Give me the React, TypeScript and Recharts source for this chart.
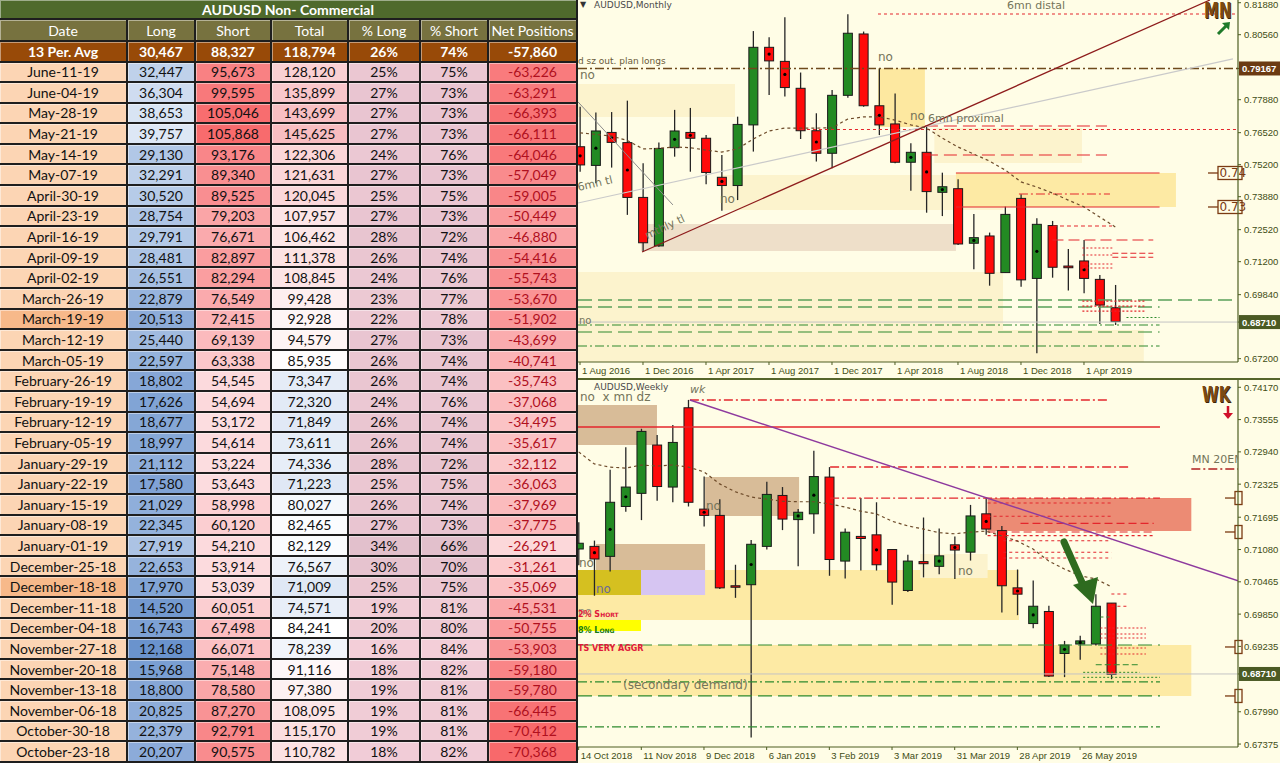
import React from "react";
import {
  ComposedChart,
  Bar,
  Line,
  XAxis,
  YAxis,
  ReferenceArea,
  ReferenceLine,
} from "recharts";

// ---------- COT table (AUDUSD non-commercial) ----------
const COT_DATES = [
  "June-11-19", "June-04-19", "May-28-19", "May-21-19", "May-14-19", "May-07-19",
  "April-30-19", "April-23-19", "April-16-19", "April-09-19", "April-02-19",
  "March-26-19", "March-19-19", "March-12-19", "March-05-19", "February-26-19",
  "February-19-19", "February-12-19", "February-05-19", "January-29-19",
  "January-22-19", "January-15-19", "January-08-19", "January-01-19",
  "December-25-18", "December-18-18", "December-11-18", "December-04-18",
  "November-27-18", "November-20-18", "November-13-18", "November-06-18",
  "October-30-18", "October-23-18",
];
const COT_LONG = [32447, 36304, 38653, 39757, 29130, 32291, 30520, 28754, 29791, 28481, 26551, 22879, 20513, 25440, 22597, 18802, 17626, 18677, 18997, 21112, 17580, 21029, 22345, 27919, 22653, 17970, 14520, 16743, 12168, 15968, 18800, 20825, 22379, 20207];
const COT_SHORT = [95673, 99595, 105046, 105868, 93176, 89340, 89525, 79203, 76671, 82897, 82294, 76549, 72415, 69139, 63338, 54545, 54694, 53172, 54614, 53224, 53643, 58998, 60120, 54210, 53914, 53039, 60051, 67498, 66071, 75148, 78580, 87270, 92791, 90575];
const COT_TOTAL = [128120, 135899, 143699, 145625, 122306, 121631, 120045, 107957, 106462, 111378, 108845, 99428, 92928, 94579, 85935, 73347, 72320, 71849, 73611, 74336, 71223, 80027, 82465, 82129, 76567, 71009, 74571, 84241, 78239, 91116, 97380, 108095, 115170, 110782];
const COT_PCT_LONG = [25, 27, 27, 27, 24, 27, 25, 27, 28, 26, 24, 23, 22, 27, 26, 26, 24, 26, 26, 28, 25, 26, 27, 34, 30, 25, 19, 20, 16, 18, 19, 19, 19, 18];
const COT_PCT_SHORT = [75, 73, 73, 73, 76, 73, 75, 73, 72, 74, 76, 77, 78, 73, 74, 74, 76, 74, 74, 72, 75, 74, 73, 66, 70, 75, 81, 80, 84, 82, 81, 81, 81, 82];
const COT_NET = [-63226, -63291, -66393, -66111, -64046, -57049, -59005, -50449, -46880, -54416, -55743, -53670, -51902, -43699, -40741, -35743, -37068, -34495, -35617, -32112, -36063, -37969, -37775, -26291, -31261, -35069, -45531, -50755, -53903, -59180, -59780, -66445, -70412, -70368];
const COT_HEADERS = ["Date", "Long", "Short", "Total", "% Long", "% Short", "Net Positions"];
const COT_AVG = ["13 Per. Avg", "30,467", "88,327", "118,794", "26%", "74%", "-57,860"];
const COT_MARKED = ["March-19-19", "December-18-18"];

// ---------- AUDUSD monthly candles (Aug 2016 .. Jun 2019) ----------
const MN_OPEN = [0.7594, 0.7517, 0.7653, 0.7611, 0.7385, 0.7185, 0.759, 0.7653, 0.7629, 0.7468, 0.7434, 0.7684, 0.8004, 0.7946, 0.7835, 0.766, 0.7567, 0.7806, 0.8059, 0.7763, 0.7688, 0.753, 0.7571, 0.7406, 0.7421, 0.7196, 0.7226, 0.7075, 0.7381, 0.7051, 0.7269, 0.7102, 0.7123, 0.7047, 0.693];
const MN_HIGH = [0.7759, 0.7735, 0.7737, 0.7784, 0.7526, 0.7611, 0.7746, 0.7754, 0.7642, 0.756, 0.7718, 0.8071, 0.8045, 0.8128, 0.79, 0.7732, 0.7828, 0.814, 0.8069, 0.7917, 0.7814, 0.7608, 0.7677, 0.7487, 0.746, 0.7317, 0.724, 0.7347, 0.7398, 0.7299, 0.7288, 0.7172, 0.7209, 0.7065, 0.7024];
const MN_LOW = [0.7491, 0.7443, 0.7508, 0.7313, 0.7161, 0.7182, 0.7553, 0.7491, 0.7439, 0.733, 0.7374, 0.7574, 0.7807, 0.7801, 0.7626, 0.7533, 0.7505, 0.7796, 0.7759, 0.7642, 0.7526, 0.7412, 0.7322, 0.7308, 0.7189, 0.7089, 0.7021, 0.7075, 0.7017, 0.6742, 0.7054, 0.7001, 0.699, 0.6863, 0.6859];
const MN_CLOSE = [0.7519, 0.7659, 0.7612, 0.7385, 0.7198, 0.7587, 0.7659, 0.7629, 0.7488, 0.7434, 0.7686, 0.8004, 0.7948, 0.7838, 0.766, 0.7567, 0.7806, 0.8062, 0.7763, 0.7684, 0.753, 0.7571, 0.7409, 0.7429, 0.7193, 0.7219, 0.7072, 0.7315, 0.7045, 0.7274, 0.7097, 0.7095, 0.7051, 0.6941, 0.6873];
const MN_EMA = [0.7651, 0.7645, 0.7638, 0.762, 0.7585, 0.7587, 0.7593, 0.759, 0.758, 0.7572, 0.7585, 0.7626, 0.7659, 0.7671, 0.7671, 0.7671, 0.7672, 0.7708, 0.7717, 0.7717, 0.7704, 0.7684, 0.7671, 0.763, 0.7593, 0.7564, 0.7535, 0.7498, 0.7449, 0.7428, 0.7403, 0.7374, 0.7346, 0.7304, 0.7263];
const MN_DOTS = [0, 1, 2, 3, 6, 7, 9, 12, 13, 15, 19, 21, 22, 23, 25, 29, 32];
const MN_DATE_TICKS = [0, 4, 8, 12, 16, 20, 24, 28, 32];
const MN_DATE_LABELS = ["1 Aug 2016", "1 Dec 2016", "1 Apr 2017", "1 Aug 2017", "1 Dec 2017", "1 Apr 2018", "1 Aug 2018", "1 Dec 2018", "1 Apr 2019"];
const MN_PRICE_TICKS = [0.8188, 0.8056, 0.79167, 0.7788, 0.7652, 0.752, 0.7388, 0.7252, 0.712, 0.6984, 0.6871, 0.672];

// ---------- AUDUSD weekly candles (14 Oct 2018 .. 9 Jun 2019) ----------
const WK_OPEN = [0.7109, 0.7114, 0.7095, 0.719, 0.7215, 0.7307, 0.7227, 0.7378, 0.7185, 0.7173, 0.7039, 0.7041, 0.7114, 0.7211, 0.7165, 0.7176, 0.7246, 0.7086, 0.7133, 0.7136, 0.7108, 0.703, 0.7085, 0.7076, 0.7117, 0.7103, 0.7176, 0.7144, 0.7035, 0.6967, 0.699, 0.691, 0.6928, 0.6928, 0.7006];
const WK_HIGH = [0.716, 0.7125, 0.726, 0.7303, 0.7338, 0.7326, 0.7345, 0.7393, 0.7247, 0.7204, 0.7079, 0.7126, 0.7237, 0.7227, 0.7185, 0.7296, 0.7265, 0.7148, 0.7206, 0.7198, 0.7108, 0.7098, 0.7169, 0.7148, 0.7133, 0.7193, 0.7207, 0.7153, 0.707, 0.7049, 0.7001, 0.6934, 0.6944, 0.7023, 0.7006];
const WK_LOW = [0.7078, 0.702, 0.7066, 0.718, 0.7164, 0.7201, 0.7198, 0.719, 0.7152, 0.7033, 0.7016, 0.675, 0.7108, 0.7145, 0.7076, 0.7138, 0.7058, 0.7053, 0.7068, 0.7068, 0.7003, 0.7027, 0.7055, 0.7061, 0.7052, 0.7087, 0.7136, 0.6988, 0.6983, 0.6958, 0.6865, 0.6865, 0.6898, 0.6925, 0.6861];
const WK_CLOSE = [0.712, 0.709, 0.7198, 0.7227, 0.7333, 0.7228, 0.7312, 0.7198, 0.7173, 0.7035, 0.7038, 0.7118, 0.7213, 0.7166, 0.7179, 0.7247, 0.7089, 0.7141, 0.7129, 0.7079, 0.7046, 0.7086, 0.7081, 0.7096, 0.7107, 0.7172, 0.7147, 0.7039, 0.7023, 0.7, 0.6867, 0.6926, 0.6934, 0.7, 0.687];
const WK_EMA = [0.7294, 0.7271, 0.7265, 0.7263, 0.7269, 0.7267, 0.7269, 0.7265, 0.7256, 0.7233, 0.7218, 0.7208, 0.7204, 0.72, 0.7199, 0.7199, 0.7195, 0.7189, 0.7181, 0.7176, 0.7162, 0.7153, 0.7147, 0.714, 0.7138, 0.7141, 0.7143, 0.7134, 0.7124, 0.7109, 0.7086, 0.7071, 0.7058, 0.7052, 0.7037];
const WK_DOTS = [1, 2, 3, 8, 11, 14, 15, 19, 23, 24, 26, 28, 29, 31, 32];
const WK_DATE_TICKS = [0, 4, 8, 12, 16, 20, 24, 28, 32];
const WK_DATE_LABELS = ["14 Oct 2018", "11 Nov 2018", "9 Dec 2018", "6 Jan 2019", "3 Feb 2019", "3 Mar 2019", "31 Mar 2019", "28 Apr 2019", "26 May 2019"];
const WK_PRICE_TICKS = [0.7417, 0.73555, 0.7294, 0.72325, 0.71695, 0.7108, 0.70465, 0.6985, 0.69235, 0.6871, 0.6799, 0.67375];

// axis windows (bar index / price)
const MN_X: [number, number] = [-0.127, 41.78];
const MN_Y: [number, number] = [0.67063, 0.81991];
const WK_X: [number, number] = [-0.04, 42.08];
const WK_Y: [number, number] = [0.67319, 0.74309];

const BG = "#FFFDE6";
const PALE = "#FCF3CD";
const YEL = "#FDEAA4";
const TAN = "#D8BC98";
const RED = "#E4262C";
const GRN = "#2E8A2E";
const AXIS = "#4E5E22";
const TXT = "#3F4D15";
const NOTE = "#74745A";

// drawing objects on the monthly chart
const MN_ZONES = [
  { x1: MN_X[0], x2: 26.86, y1: 0.6706, y2: 0.70775, fill: PALE },
  { x1: 26.86, x2: 35.8, y1: 0.6706, y2: 0.68383, fill: PALE },
  { x1: MN_X[0], x2: 9.84, y1: 0.77166, y2: 0.78527, fill: PALE },
  { x1: 8.95, x2: 26.86, y1: 0.73332, y2: 0.74775, fill: PALE },
  { x1: 22.5, x2: 31.87, y1: 0.7527, y2: 0.76713, fill: PALE },
  { x1: 18.92, x2: 21.9, y1: 0.76754, y2: 0.79167, fill: "#FDE8A0" },
  { x1: 3.87, x2: 23.87, y1: 0.71641, y2: 0.72754, fill: "#EEDFC9" },
  { x1: 23.87, x2: 37.84, y1: 0.73455, y2: 0.74857, fill: YEL },
];
const MN_LINES = [
  { y: 0.81414, x1: 18.92, x2: MN_X[1], c: RED, d: "3 3", w: 1.2 },
  { y: 0.79167, x1: MN_X[0], x2: MN_X[1], c: "#6E4A1C", d: "9 3 2 3", w: 1.6 },
  { y: 0.76651, x1: 14.03, x2: MN_X[1], c: RED, d: "3 3", w: 1.2 },
  { y: 0.76795, x1: 21.9, x2: 33.46, c: RED, d: "13 6", w: 1.2 },
  { y: 0.756, x1: 21.9, x2: 33.46, c: RED, d: "13 6", w: 1.2 },
  { y: 0.74857, x1: 23.87, x2: 36.8, c: RED, d: "", w: 1.2 },
  { y: 0.73455, x1: 23.87, x2: 36.8, c: RED, d: "", w: 1.2 },
  { y: 0.73991, x1: 27.87, x2: 33.65, c: RED, d: "9 3 2 3", w: 1.2 },
  { y: 0.72672, x1: 30.03, x2: 33.78, c: RED, d: "4 3", w: 1.2 },
  { y: 0.72094, x1: 30.0, x2: 36.4, c: RED, d: "11 5", w: 1.2 },
  { y: 0.71764, x1: 31.9, x2: 33.8, c: RED, d: "2 2", w: 1.1 },
  { y: 0.7155, x1: 33.8, x2: 36.4, c: RED, d: "6 3", w: 1.1 },
  { y: 0.71476, x1: 31.9, x2: 33.8, c: RED, d: "2 2", w: 1.1 },
  { y: 0.7138, x1: 33.8, x2: 36.4, c: RED, d: "6 3", w: 1.1 },
  { y: 0.71105, x1: 31.9, x2: 33.8, c: RED, d: "2 2", w: 1.1 },
  { y: 0.7094, x1: 31.9, x2: 33.8, c: RED, d: "2 2", w: 1.1 },
  { y: 0.6962, x1: MN_X[0], x2: 41.4, c: "#5AA05A", d: "14 6", w: 1.3 },
  { y: 0.69332, x1: MN_X[0], x2: 36.8, c: "#5AA05A", d: "14 6", w: 1.3 },
  { y: 0.69575, x1: 31.9, x2: 35.9, c: RED, d: "2 2", w: 1.1 },
  { y: 0.69369, x1: 31.9, x2: 35.9, c: RED, d: "2 2", w: 1.1 },
  { y: 0.69162, x1: 31.9, x2: 35.9, c: RED, d: "2 2", w: 1.1 },
  { y: 0.6871, x1: MN_X[0], x2: MN_X[1], c: "#C4C4C4", d: "", w: 1 },
  { y: 0.68898, x1: 34.7, x2: 36.8, c: GRN, d: "2 2", w: 1 },
  { y: 0.68589, x1: MN_X[0], x2: 36.8, c: GRN, d: "9 3 2 3", w: 1.2 },
  { y: 0.683, x1: MN_X[0], x2: 36.8, c: GRN, d: "14 6", w: 1.2 },
  { y: 0.67723, x1: MN_X[0], x2: 36.8, c: GRN, d: "9 3 2 3", w: 1.2 },
];
const MN_SEGS = [
  { x1: MN_X[0], y1: 0.7362, x2: 41.46, y2: 0.7956, c: "#CACACA", w: 1.2 },
  { x1: MN_X[0], y1: 0.7779, x2: 5.9, y2: 0.7354, c: "#8C8C8C", w: 1 },
  { x1: 3.94, y1: 0.716, x2: 40.0, y2: 0.81991, c: "#8E1C1C", w: 1.3 },
];
const MN_TAGS = [
  { y: 0.74857, text: "0.74" },
  { y: 0.73455, text: "0.73" },
];

// drawing objects on the weekly chart
const WK_ZONES = [
  { x1: WK_X[0], x2: 28.1, y1: 0.69738, y2: 0.7069, fill: YEL },
  { x1: WK_X[0], x2: 39.1, y1: 0.68291, y2: 0.69262, fill: YEL },
  { x1: WK_X[0], x2: 3.98, y1: 0.70214, y2: 0.7069, fill: "#D5C020" },
  { x1: 3.98, x2: 8.07, y1: 0.70214, y2: 0.7069, fill: "#D6C5F2" },
  { x1: WK_X[0], x2: 3.98, y1: 0.69528, y2: 0.69738, fill: "#FFFF00" },
  { x1: WK_X[0], x2: 5.0, y1: 0.73071, y2: 0.73833, fill: TAN },
  { x1: 8.07, x2: 14.07, y1: 0.71718, y2: 0.72461, fill: TAN },
  { x1: 1.11, x2: 8.07, y1: 0.7069, y2: 0.71185, fill: TAN },
  { x1: 21.8, x2: 26.1, y1: 0.70538, y2: 0.70995, fill: PALE },
  { x1: 26.1, x2: 39.1, y1: 0.71433, y2: 0.72061, fill: "#EC8B74" },
];
const WK_LINES = [
  { y: 0.73928, x1: 7.1, x2: 33.9, c: RED, d: "9 3 2 3", w: 1.3 },
  { y: 0.73414, x1: WK_X[0], x2: 37.1, c: RED, d: "", w: 1.5 },
  { y: 0.72652, x1: 16.05, x2: 35.07, c: RED, d: "9 3 2 3", w: 1.3 },
  { y: 0.72061, x1: 16.05, x2: 37.1, c: RED, d: "9 3 2 3", w: 1.3 },
  { y: 0.72614, x1: 39.1, x2: WK_X[1], c: "#B02020", d: "9 3 2 3", w: 1.3 },
  { y: 0.71966, x1: 26.1, x2: 34.1, c: RED, d: "3 3", w: 1.1 },
  { y: 0.71713, x1: 26.1, x2: 34.1, c: RED, d: "3 3", w: 1.1 },
  { y: 0.7158, x1: 28.2, x2: 36.7, c: RED, d: "8 4", w: 1.2 },
  { y: 0.71414, x1: 26.1, x2: 36.7, c: RED, d: "8 4", w: 1.2 },
  { y: 0.71344, x1: 26.1, x2: 36.7, c: RED, d: "3 3", w: 1.1 },
  { y: 0.71248, x1: 27.1, x2: 34.0, c: RED, d: "3 3", w: 1.1 },
  { y: 0.71027, x1: 27.1, x2: 34.0, c: RED, d: "3 3", w: 1.1 },
  { y: 0.70919, x1: 27.1, x2: 34.0, c: RED, d: "3 3", w: 1.1 },
  { y: 0.70233, x1: 34.0, x2: 35.1, c: RED, d: "3 3", w: 1.1 },
  { y: 0.7, x1: 34.0, x2: 35.1, c: RED, d: "3 3", w: 1.1 },
  { y: 0.69586, x1: 33.3, x2: 36.2, c: RED, d: "2 2", w: 1.1 },
  { y: 0.69471, x1: 33.3, x2: 36.2, c: RED, d: "2 2", w: 1.1 },
  { y: 0.69395, x1: 33.3, x2: 36.2, c: RED, d: "2 2", w: 1.1 },
  { y: 0.69204, x1: 33.3, x2: 36.2, c: RED, d: "2 2", w: 1.1 },
  { y: 0.6909, x1: 33.3, x2: 36.2, c: RED, d: "2 2", w: 1.1 },
  { y: 0.69262, x1: WK_X[0], x2: 37.1, c: GRN, d: "14 6", w: 1.2 },
  { y: 0.69795, x1: 33.3, x2: 34.0, c: GRN, d: "3 3", w: 1 },
  { y: 0.68886, x1: 33.0, x2: 35.8, c: GRN, d: "6 3", w: 1 },
  { y: 0.6871, x1: WK_X[0], x2: WK_X[1], c: "#C4C4C4", d: "", w: 1 },
  { y: 0.68741, x1: 32.2, x2: 35.8, c: GRN, d: "2 2", w: 1 },
  { y: 0.68646, x1: 32.2, x2: 37.1, c: GRN, d: "2 2", w: 1 },
  { y: 0.68558, x1: WK_X[0], x2: 37.1, c: GRN, d: "9 3 2 3", w: 1.2 },
  { y: 0.68291, x1: WK_X[0], x2: 37.1, c: GRN, d: "14 6", w: 1.2 },
  { y: 0.67701, x1: WK_X[0], x2: 37.1, c: GRN, d: "9 3 2 3", w: 1.2 },
];
const WK_SEGS = [{ x1: 7.1, y1: 0.73928, x2: WK_X[1], y2: 0.70486, c: "#8E3A9E", w: 1.4 }];
const WK_TAGS = [
  { y: 0.72061, text: "" },
  { y: 0.71414, text: "" },
  { y: 0.69224, text: "" },
  { y: 0.68291, text: "" },
];

const mnData = MN_OPEN.map((o, i) => ({
  i, o, h: MN_HIGH[i], l: MN_LOW[i], c: MN_CLOSE[i], ema: MN_EMA[i], dot: MN_DOTS.includes(i),
}));
const wkData = WK_OPEN.map((o, i) => ({
  i, o, h: WK_HIGH[i], l: WK_LOW[i], c: WK_CLOSE[i], ema: WK_EMA[i], dot: WK_DOTS.includes(i),
}));

// ---------- helpers ----------
const fmt = (n: number) => n.toLocaleString("en-US");
const rgb = (c: string) => [1, 3, 5].map((k) => parseInt(c.slice(k, k + 2), 16));
function mix(a: string, b: string, t: number) {
  const A = rgb(a);
  const B = rgb(b);
  const k = Math.max(0, Math.min(1, t));
  return `rgb(${A.map((v, i) => Math.round(v + (B[i] - v) * k)).join(",")})`;
}
function ramp(v: number, arr: number[], lo: string, hi: string) {
  const mn = Math.min(...arr);
  const mx = Math.max(...arr);
  return mix(lo, hi, (v - mn) / (mx - mn));
}
function ramp3(v: number, arr: number[], lo: string, mid: string, midV: number, hi: string) {
  const mn = Math.min(...arr);
  const mx = Math.max(...arr);
  return v < midV ? mix(lo, mid, (v - mn) / (midV - mn)) : mix(mid, hi, (v - midV) / (mx - midV));
}

// ---------- table ----------
const COL_W = [128, 68, 76, 77, 72, 68, 89];
const GRID = "#1E1E1E";

function Cell({ w, bg, color = "#111", bold = false, children }: any) {
  return (
    <div
      style={{
        width: w,
        height: "100%",
        boxSizing: "border-box",
        background: bg,
        color,
        fontWeight: bold ? 700 : 400,
        borderRight: `2px solid ${GRID}`,
        borderBottom: `2px solid ${GRID}`,
        boxShadow: "inset 1px 1px 0 rgba(255,255,255,0.45)",
        display: "flex",
        alignItems: "center",
        justifyContent: "center",
        whiteSpace: "nowrap",
        overflow: "hidden",
      }}
    >
      {children}
    </div>
  );
}

function CotTable() {
  const row = (h: number) => ({ display: "flex", height: h });
  return (
    <div style={{ position: "absolute", left: 0, top: 0, width: 578, height: 763, fontFamily: "Lato, 'Open Sans', sans-serif", fontSize: 14, background: "#222" }}>
      <div style={row(20)}>
        <Cell w={578} bg="#4F6A2C" color="#fff" bold>AUDUSD Non- Commercial</Cell>
      </div>
      <div style={row(22)}>
        {COT_HEADERS.map((t, k) => (
          <Cell key={t} w={COL_W[k]} bg="#77723F" color="#fff">{t}</Cell>
        ))}
      </div>
      <div style={row(20.5)}>
        {COT_AVG.map((t, k) => (
          <Cell key={k} w={COL_W[k]} bg="#984A08" color="#fff" bold>{t}</Cell>
        ))}
      </div>
      {COT_DATES.map((d, r) => (
        <div key={d} style={row(20.6)}>
          <Cell w={COL_W[0]} bg={COT_MARKED.includes(d) ? "#F7B98A" : "#FCD5B4"}>{d}</Cell>
          <Cell w={COL_W[1]} bg={ramp(COT_LONG[r], COT_LONG, "#6A93CD", "#DDE7F5")}>{fmt(COT_LONG[r])}</Cell>
          <Cell w={COL_W[2]} bg={ramp(COT_SHORT[r], COT_SHORT, "#FCDDE0", "#F86B6D")}>{fmt(COT_SHORT[r])}</Cell>
          <Cell w={COL_W[3]} bg={ramp3(COT_TOTAL[r], COT_TOTAL, "#DFE8F5", "#FFFFFF", 84000, "#F8BDC1")}>{fmt(COT_TOTAL[r])}</Cell>
          <Cell w={COL_W[4]} bg={ramp(COT_PCT_LONG[r], COT_PCT_LONG, "#F3CED8", "#E2C0CC")}>{COT_PCT_LONG[r]}%</Cell>
          <Cell w={COL_W[5]} bg={ramp(COT_PCT_SHORT[r], COT_PCT_SHORT, "#E2C0CC", "#F3CED8")}>{COT_PCT_SHORT[r]}%</Cell>
          <Cell w={COL_W[6]} bg={ramp(COT_NET[r], COT_NET, "#F8696B", "#FCD8DA")} color="#B0101E">{fmt(COT_NET[r])}</Cell>
        </div>
      ))}
    </div>
  );
}

// ---------- chart pieces ----------
function Candle(props: any) {
  const { x, y, width, height, payload } = props;
  if (!payload || x == null) return null;
  const { o, h, l, c, dot } = payload;
  const top = Math.min(y, y + height);
  const bot = Math.max(y, y + height);
  const py = (p: number) => top + ((h - p) / (h - l || 1)) * (bot - top);
  const cx = x + width / 2;
  const bt = py(Math.max(o, c));
  const bb = py(Math.min(o, c));
  const bh = Math.max(bb - bt, 1.5);
  return (
    <g>
      <line x1={cx} x2={cx} y1={top} y2={bot} stroke="#262626" strokeWidth={1.3} />
      <rect x={cx - 4.5} y={bt} width={9} height={bh} fill={c >= o ? "#238A23" : "#FF0A0A"} stroke="#1A1A1A" strokeWidth={1} />
      {dot && <circle cx={cx} cy={(bt + bb) / 2} r={1.6} fill="#000" />}
    </g>
  );
}

function PriceTick(props: any) {
  const { x, y, payload, tags } = props;
  const label = Number(payload.value).toFixed(5);
  const tag = tags[label];
  return (
    <g>
      <line x1={x} x2={x + 3} y1={y} y2={y} stroke={AXIS} strokeWidth={1} />
      {tag ? (
        <g>
          <rect x={x + 1} y={y - 7} width={42} height={14} fill={tag} />
          <text x={x + 4} y={y + 3.5} fill="#fff" fontSize={9.5} fontWeight={700} fontFamily="'Liberation Sans', sans-serif">{label}</text>
        </g>
      ) : (
        <text x={x + 6} y={Math.max(y + 3.5, 8)} fill={TXT} fontSize={9.5} fontFamily="'Liberation Sans', sans-serif">{label}</text>
      )}
    </g>
  );
}

function DateTick(props: any) {
  const { x, y, payload, ticks, labels } = props;
  const k = ticks.indexOf(payload.value);
  return (
    <g>
      <line x1={x} x2={x} y1={y} y2={y + 3} stroke={AXIS} />
      <text x={x + 2} y={y + 12} fill={TXT} fontSize={9.5} fontFamily="'Liberation Sans', sans-serif">{labels[k]}</text>
    </g>
  );
}

function EdgeTag(props: any) {
  const { viewBox, text } = props;
  if (!viewBox) return null;
  const xr = viewBox.x + viewBox.width;
  const y = viewBox.y;
  const w = text ? 20 : 3;
  return (
    <g>
      <line x1={xr - w - 10} x2={xr - w} y1={y} y2={y} stroke="#7A3A12" strokeWidth={1.3} />
      <rect x={xr - w} y={y - 6.5} width={w + 4} height={13} fill={BG} stroke="#7A3A12" strokeWidth={1.3} />
      {text ? (
        <text x={xr - w + 1.5} y={y + 4.5} fontSize={12} fill="#7A3A12" fontFamily="'DejaVu Sans', sans-serif">{text}</text>
      ) : null}
    </g>
  );
}

function decorations(zones: any[], lines: any[], segs: any[], tags: any[], key: string) {
  const out: any[] = [];
  zones.forEach((z, k) =>
    out.push(
      <ReferenceArea key={`${key}z${k}`} x1={z.x1} x2={z.x2} y1={z.y1} y2={z.y2} fill={z.fill} fillOpacity={1} stroke="none" ifOverflow="hidden" />
    )
  );
  lines.forEach((l, k) =>
    out.push(
      <ReferenceLine key={`${key}l${k}`} segment={[{ x: l.x1, y: l.y }, { x: l.x2, y: l.y }]} stroke={l.c} strokeWidth={l.w} strokeDasharray={l.d || undefined} ifOverflow="hidden" />
    )
  );
  segs.forEach((s, k) =>
    out.push(
      <ReferenceLine key={`${key}s${k}`} segment={[{ x: s.x1, y: s.y1 }, { x: s.x2, y: s.y2 }]} stroke={s.c} strokeWidth={s.w} ifOverflow="hidden" />
    )
  );
  tags.forEach((t, k) =>
    out.push(<ReferenceLine key={`${key}t${k}`} y={t.y} stroke="none" label={<EdgeTag text={t.text} />} />)
  );
  return out;
}

function Note({ x, y, size = 12, color = NOTE, style, children }: any) {
  return (
    <div style={{ position: "absolute", left: x, top: y, fontSize: size, color, fontFamily: "'DejaVu Sans', sans-serif", whiteSpace: "nowrap", lineHeight: 1, ...style }}>
      {children}
    </div>
  );
}

function CandleChart({ data, xDom, yDom, height, priceTicks, tagColors, dateTicks, dateLabels, deco }: any) {
  return (
    <ComposedChart width={702} height={height} data={data} margin={{ top: 0, right: 0, bottom: 0, left: 0 }}>
      <XAxis
        dataKey="i"
        type="number"
        domain={xDom}
        allowDataOverflow
        ticks={dateTicks}
        interval={0}
        height={17}
        tickSize={0}
        tickMargin={0}
        tickLine={false}
        axisLine={{ stroke: AXIS, strokeWidth: 1.2 }}
        tick={<DateTick ticks={dateTicks} labels={dateLabels} />}
      />
      <YAxis
        orientation="right"
        type="number"
        domain={yDom}
        allowDataOverflow
        ticks={priceTicks}
        interval={0}
        width={42}
        tickSize={0}
        tickMargin={0}
        tickLine={false}
        axisLine={{ stroke: AXIS, strokeWidth: 1.2 }}
        tick={<PriceTick tags={tagColors} />}
      />
      {deco}
      <Line dataKey="ema" stroke="#6E4B2A" strokeWidth={1.2} strokeDasharray="3 3" dot={false} isAnimationActive={false} />
      <Bar dataKey={(d: any) => [d.l, d.h]} barSize={10} shape={(p: any) => <Candle {...p} />} isAnimationActive={false} />
    </ComposedChart>
  );
}

export default function App() {
  return (
    <div style={{ position: "absolute", left: 0, top: 0, width: 1280, height: 763, overflow: "hidden", background: BG }}>
      <CotTable />

      {/* monthly */}
      <div style={{ position: "absolute", left: 578, top: 0, width: 702, height: 379, background: BG, overflow: "hidden" }}>
        <CandleChart
          data={mnData}
          xDom={MN_X}
          yDom={MN_Y}
          height={379}
          priceTicks={MN_PRICE_TICKS}
          tagColors={{ "0.79167": "#6B3A12", "0.68710": "#4B5A24" }}
          dateTicks={MN_DATE_TICKS}
          dateLabels={MN_DATE_LABELS}
          deco={decorations(MN_ZONES, MN_LINES, MN_SEGS, MN_TAGS, "m")}
        />
        <div style={{ position: "absolute", left: 0, top: 0, width: 660, height: 362, overflow: "hidden" }}>
          <Note x={2} y={1} size={8} color="#333">▼</Note>
          <Note x={16} y={1} size={9} color="#4A4A4A">AUDUSD,Monthly</Note>
          <Note x={429} y={0} size={11}>6mn distal</Note>
          <Note x={0} y={57} size={9} color="#6A5A3A">d sz out. plan longs</Note>
          <Note x={2} y={69}>no</Note>
          <Note x={300} y={51}>no</Note>
          <Note x={332} y={110}>no</Note>
          <Note x={350} y={113} size={11}>6mn proximal</Note>
          <Note x={1} y={182} size={11} style={{ transform: "rotate(-13deg)", transformOrigin: "left bottom" }}>6mn tl</Note>
          <Note x={70} y={230} size={11} style={{ transform: "rotate(-25deg)", transformOrigin: "left bottom" }}>mthly tl</Note>
          <Note x={142} y={193}>no</Note>
          <Note x={1} y={316} size={10}>no</Note>
          <Note x={626} y={1} size={21} color="#7B4A12" style={{ fontWeight: 900, transform: "scaleX(0.72)", transformOrigin: "left top", textShadow: "1px 1px 0 #3a2206" }}>MN</Note>
          <svg style={{ position: "absolute", left: 636, top: 20 }} width={20} height={18}>
            <line x1={4} y1={14} x2={13} y2={5} stroke="#1F7A2A" strokeWidth={3} />
            <polygon points="8,3 16,2 15,10" fill="#1F7A2A" />
          </svg>
        </div>
      </div>

      {/* separator */}
      <div style={{ position: "absolute", left: 578, top: 378, width: 702, height: 1.5, background: "#55652A" }} />

      {/* weekly */}
      <div style={{ position: "absolute", left: 578, top: 379.5, width: 702, height: 384, background: BG, overflow: "hidden" }}>
        <CandleChart
          data={wkData}
          xDom={WK_X}
          yDom={WK_Y}
          height={384}
          priceTicks={WK_PRICE_TICKS}
          tagColors={{ "0.68710": "#4B5A24" }}
          dateTicks={WK_DATE_TICKS}
          dateLabels={WK_DATE_LABELS}
          deco={decorations(WK_ZONES, WK_LINES, WK_SEGS, WK_TAGS, "w")}
        />
        <div style={{ position: "absolute", left: 0, top: 0, width: 660, height: 367, overflow: "hidden" }}>
          <Note x={16} y={3} size={9} color="#4A4A4A">AUDUSD,Weekly</Note>
          <Note x={2} y={11}>no&nbsp;&nbsp;x mn dz</Note>
          <Note x={112} y={4} size={11} style={{ fontStyle: "italic" }}>wk</Note>
          <Note x={128} y={120}>no</Note>
          <Note x={1} y={177}>no</Note>
          <Note x={18} y={203} color="#6A6A9A">no</Note>
          <Note x={380} y={185}>no</Note>
          <Note x={0} y={226} size={11} color="#8A8A7A">no</Note>
          <Note x={0} y={231} size={8} color="#E0183C" style={{ fontWeight: 700, fontVariant: "small-caps" }}>2% Short</Note>
          <Note x={0} y={247} size={8} color="#147A14" style={{ fontWeight: 700, fontVariant: "small-caps" }}>8% Long</Note>
          <Note x={0} y={265} size={8} color="#E0183C" style={{ fontWeight: 700, fontVariant: "small-caps" }}>TS VERY AGGR</Note>
          <Note x={45} y={299}>(secondary demand)</Note>
          <Note x={614} y={74} size={11}>MN 20EMA</Note>
          <Note x={624} y={5} size={21} color="#7B4A12" style={{ fontWeight: 900, transform: "scaleX(0.72)", transformOrigin: "left top", textShadow: "1px 1px 0 #3a2206" }}>WK</Note>
          <svg style={{ position: "absolute", left: 642, top: 25 }} width={16} height={16}>
            <line x1={8} y1={1} x2={8} y2={10} stroke="#D0102A" strokeWidth={2.5} />
            <polygon points="3,8 13,8 8,14" fill="#D0102A" />
          </svg>
          <svg style={{ position: "absolute", left: 478, top: 155 }} width={50} height={75}>
            <line x1={8} y1={7} x2={28} y2={52} stroke="#2E6B1F" strokeWidth={7} strokeLinecap="round" />
            <polygon points="17,50 42,42 37,69" fill="#2E6B1F" />
          </svg>
        </div>
      </div>
    </div>
  );
}
